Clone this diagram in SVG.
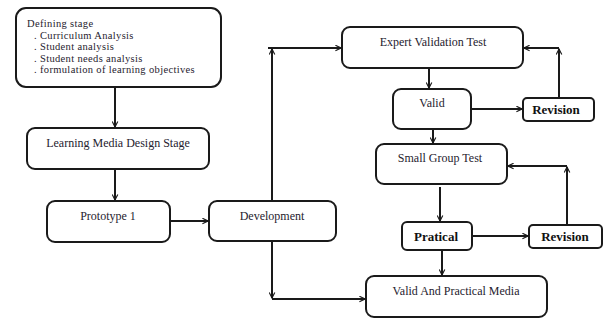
<svg xmlns="http://www.w3.org/2000/svg" width="603" height="320" viewBox="0 0 603 320">
<defs>
<marker id="ah" viewBox="0 0 10 10" refX="9" refY="5" markerWidth="7" markerHeight="7" markerUnits="userSpaceOnUse" orient="auto">
<path d="M1,1 L9,5 L1,9" fill="none" stroke="#1a1a1a" stroke-width="1.6"/>
</marker>
</defs>
<style>
.box{fill:#fff;stroke:#1a1a1a;stroke-width:2}
.t{font-family:'Liberation Serif','DejaVu Serif',serif;font-size:12px;fill:#26222e}
.ts{font-family:'Liberation Serif','DejaVu Serif',serif;font-size:10.5px;letter-spacing:0.35px;fill:#26222e}
.tb{font-family:'Liberation Serif','DejaVu Serif',serif;font-size:13px;fill:#111;font-weight:bold}
.c{fill:none;stroke:#1a1a1a;stroke-width:2}
</style>
<rect width="603" height="320" fill="#fff"/>
<g id="defining">
<rect class="box" x="16" y="8" width="205" height="79" rx="10"/>
<text class="ts" x="27" y="27">Defining stage</text>
<text class="ts" x="34" y="38.5">. Curriculum  Analysis</text>
<text class="ts" x="34" y="50">. Student analysis</text>
<text class="ts" x="34" y="61.5">. Student needs analysis</text>
<text class="ts" x="34" y="73">. formulation of learning objectives</text>
</g>
<g id="design">
<rect class="box" x="27" y="128" width="182" height="41" rx="8"/>
<text class="t" x="118" y="147" text-anchor="middle">Learning Media Design Stage</text>
</g>
<g id="prototype">
<rect class="box" x="47" y="201" width="123" height="41" rx="8"/>
<text class="t" x="108" y="220" text-anchor="middle">Prototype 1</text>
</g>
<g id="development">
<rect class="box" x="209" y="201" width="127" height="40" rx="8"/>
<text class="t" x="272" y="220" text-anchor="middle">Development</text>
</g>
<g id="expert">
<rect class="box" x="342" y="27" width="181" height="41" rx="8"/>
<text class="t" x="433" y="46" text-anchor="middle">Expert Validation Test</text>
</g>
<g id="valid">
<rect class="box" x="393" y="89" width="78" height="40" rx="8"/>
<text class="t" x="432" y="107" text-anchor="middle">Valid</text>
</g>
<g id="revision1">
<rect class="box" x="523" y="98" width="71" height="23" rx="4"/>
<text class="tb" x="556" y="114" text-anchor="middle">Revision</text>
</g>
<g id="smallgroup">
<rect class="box" x="376" y="144" width="131" height="40" rx="8"/>
<text class="t" x="440" y="162" text-anchor="middle">Small Group Test</text>
</g>
<g id="pratical">
<rect class="box" x="402" y="222" width="70" height="28" rx="5"/>
<text class="tb" x="436" y="241" text-anchor="middle">Pratical</text>
</g>
<g id="revision2">
<rect class="box" x="529" y="225" width="73" height="23" rx="4"/>
<text class="tb" x="565" y="241" text-anchor="middle">Revision</text>
</g>
<g id="final">
<rect class="box" x="366" y="276" width="181" height="41" rx="8"/>
<text class="t" x="456" y="295" text-anchor="middle">Valid And Practical Media</text>
</g>
<g id="connectors">
<path class="c" d="M115,87 V127" marker-end="url(#ah)"/>
<path class="c" d="M115,169 V200" marker-end="url(#ah)"/>
<path class="c" d="M170,221 H208" marker-end="url(#ah)"/>
<path class="c" d="M272,201 V49" marker-end="url(#ah)"/>
<path class="c" d="M268,48 H341" marker-end="url(#ah)"/>
<path class="c" d="M429,68 V88" marker-end="url(#ah)"/>
<path class="c" d="M471,109 H522" marker-end="url(#ah)"/>
<path class="c" d="M559,98 V49" marker-end="url(#ah)"/>
<path class="c" d="M559,48 H524" marker-end="url(#ah)"/>
<path class="c" d="M433,129 V143" marker-end="url(#ah)"/>
<path class="c" d="M440,187 V221" marker-end="url(#ah)"/>
<path class="c" d="M472,236 H528" marker-end="url(#ah)"/>
<path class="c" d="M567,225 V167" marker-end="url(#ah)"/>
<path class="c" d="M567,166 H508" marker-end="url(#ah)"/>
<path class="c" d="M442,250 V275" marker-end="url(#ah)"/>
<path class="c" d="M272,241 V298" marker-end="url(#ah)"/>
<path class="c" d="M272,299 H365" marker-end="url(#ah)"/>
</g>
</svg>
